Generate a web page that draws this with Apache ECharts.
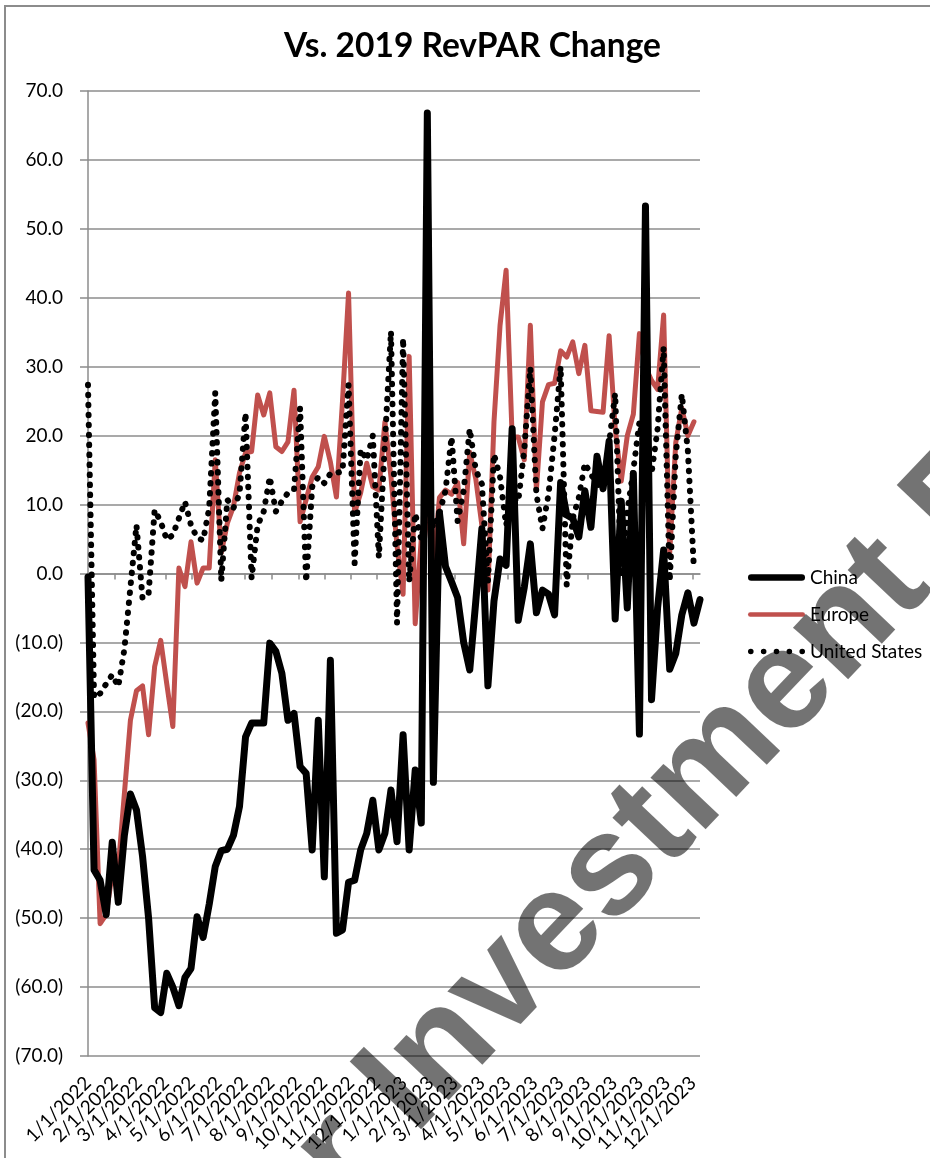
<!DOCTYPE html>
<html>
<head>
<meta charset="utf-8">
<script src="https://cdn.jsdelivr.net/npm/echarts@6/dist/echarts.min.js"></script>
<style>
html,body{margin:0;padding:0;background:#fff;}
#chart{width:930px;height:1158px;}
</style>
</head>
<body>
<div id="chart"></div>
<script>
// ---- data (weekly, first week = 1/1/2022) ----
const chartTitle = 'Vs. 2019 RevPAR Change';
const seriesNames = ['China', 'Europe', 'United States'];
const firstWeek = '1/1/2022';
const monthLabels = ['1/1/2022','2/1/2022','3/1/2022','4/1/2022','5/1/2022','6/1/2022','7/1/2022','8/1/2022','9/1/2022','10/1/2022','11/1/2022','12/1/2022',
                     '1/1/2023','2/1/2023','3/1/2023','4/1/2023','5/1/2023','6/1/2023','7/1/2023','8/1/2023','9/1/2023','10/1/2023','11/1/2023','12/1/2023'];
const china = [
  -0.5,-43.0,-44.5,-49.5,-39.0,-47.7,-38.0,-32.0,-34.3,-41.0,
  -50.0,-63.0,-63.7,-58.0,-60.0,-62.7,-58.6,-57.3,-49.8,-52.8,
  -48.0,-42.5,-40.2,-40.0,-38.0,-33.8,-23.7,-21.7,-21.7,-21.7,
  -10.1,-11.3,-14.5,-21.3,-20.3,-28.0,-29.0,-40.1,-21.3,-44.0,
  -12.6,-52.2,-51.7,-44.8,-44.5,-40.1,-37.7,-32.9,-40.1,-37.7,
  -31.4,-38.9,-23.4,-40.1,-28.5,-36.2,66.8,-30.3,8.8,1.0,
  -1.2,-3.5,-10.0,-14.0,-4.0,6.5,-16.3,-4.0,2.1,1.2,
  21.0,-6.8,-2.0,4.3,-5.7,-2.4,-3.0,-6.0,13.2,8.5,
  8.0,5.3,12.0,6.7,17.0,12.3,19.2,-6.6,10.5,-5.0,
  14.5,-23.3,53.3,-18.3,-5.0,3.4,-13.9,-11.6,-6.0,-2.8,
  -7.2,-3.8
];
const europe = [
  -21.7,-27.0,-50.8,-49.5,-43.5,-42.6,-32.0,-21.3,-17.0,-16.3,
  -23.4,-13.5,-9.7,-16.0,-22.2,0.8,-1.9,4.6,-1.4,0.8,
  0.8,16.5,3.0,7.3,9.7,14.6,17.5,17.7,25.9,23.0,
  26.2,18.4,17.7,19.1,26.6,7.5,10.7,14.0,15.5,19.9,
  16.2,11.1,25.0,40.7,8.8,11.7,16.0,12.6,12.1,22.0,
  14.0,4.0,-3.0,31.5,-7.3,5.0,9.5,1.0,11.0,12.1,
  11.5,13.2,4.3,17.6,13.7,7.0,-2.4,22.0,36.0,44.0,
  19.8,19.8,16.5,36.0,12.1,24.9,27.4,27.6,32.3,31.4,
  33.6,29.0,33.1,23.6,23.5,23.4,34.5,21.1,13.4,20.0,
  23.1,34.8,30.0,28.0,26.7,37.5,3.0,19.0,24.0,20.0,
  22.0
];
const unitedStates = [
  27.4,-18.0,-17.4,-16.0,-14.7,-16.4,-11.0,-2.0,7.0,-3.6,
  -2.9,9.2,7.5,4.9,5.6,8.0,10.4,7.0,5.2,4.8,
  9.5,26.2,-1.0,10.7,9.5,11.5,23.3,-0.7,7.0,9.0,
  14.0,9.0,10.5,11.7,12.1,24.0,-1.2,12.6,14.0,13.1,
  14.5,14.6,14.8,27.4,1.5,18.0,16.5,20.0,2.4,19.0,
  35.1,-7.2,34.1,-1.2,8.7,4.9,10.0,6.6,8.8,12.0,
  19.8,7.6,12.0,21.0,15.0,13.0,-1.2,17.3,14.0,7.0,
  11.0,10.4,18.0,29.8,11.5,6.5,11.5,20.0,30.0,-1.7,
  8.0,11.0,16.0,14.4,13.0,12.3,19.0,26.1,-0.5,9.0,
  15.0,22.0,17.0,14.5,21.0,32.8,-1.1,17.2,26.0,17.8,
  0.6
];
const watermarkText = 'r Investment R';

// ---- helpers ----
function dayOffset(label) {
  const p = label.split('/').map(Number);
  const s = firstWeek.split('/').map(Number);
  return Math.round((Date.UTC(p[2], p[0] - 1, p[1]) - Date.UTC(s[2], s[0] - 1, s[1])) / 86400000);
}
const tickDays = monthLabels.map(dayOffset);
const labelByDay = {};
tickDays.forEach((d, i) => { labelByDay[d] = monthLabels[i]; });
const evenTickDays = tickDays.filter((d, i) => i % 2 === 0);
const oddTickDays = tickDays.filter((d, i) => i % 2 === 1);
const toPoints = arr => arr.map((v, i) => [i * 7, v]);
const lastDay = (china.length - 1) * 7;

// legend icon shapes (styling only)
function barIcon(w, h) {
  const r = h / 2;
  return 'path://M' + r + ',0 L' + (w - r) + ',0 A' + r + ',' + r + ' 0 1 1 ' + (w - r) + ',' + h +
         ' L' + r + ',' + h + ' A' + r + ',' + r + ' 0 1 1 ' + r + ',0 Z';
}
function dotsIcon(w, r, n) {
  const step = (w - 2 * r) / (n - 1);
  let d = 'path://';
  for (let k = 0; k < n; k++) {
    const cx = r + k * step;
    d += 'M' + (cx - r) + ',' + r + ' A' + r + ',' + r + ' 0 1 0 ' + (cx + r) + ',' + r +
         ' A' + r + ',' + r + ' 0 1 0 ' + (cx - r) + ',' + r + ' Z ';
  }
  return d;
}

const FONT = 'Lato';
const GRID_COLOR = '#8c8c8c';
const RED = '#C0504D';

function labelAxis(values) {
  return {
    type: 'value', min: 0, max: lastDay, position: 'bottom',
    axisLine: { show: false, onZero: false },
    axisTick: { show: false },
    splitLine: { show: false },
    axisLabel: {
      customValues: values,
      formatter: v => labelByDay[Math.round(v)] || '',
      rotate: 45, margin: 24, fontFamily: FONT, fontSize: 19, color: '#000',
      hideOverlap: false, showMinLabel: true, showMaxLabel: true
    }
  };
}

const chart = echarts.init(document.getElementById('chart'), null, { renderer: 'canvas' });
chart.setOption({
  animation: false,
  backgroundColor: '#ffffff',
  title: {
    text: chartTitle,
    left: 284,
    top: 29,
    padding: 0,
    textStyle: { fontFamily: FONT, fontWeight: 'bold', fontSize: 33.5, color: '#000' }
  },
  legend: {
    orient: 'vertical',
    left: 748,
    top: 568,
    padding: 0,
    itemWidth: 57,
    itemHeight: 14,
    itemGap: 18,
    symbolKeepAspect: true,
    itemStyle: { borderWidth: 0 },
    data: [
      { name: seriesNames[0], icon: barIcon(57, 6.5) },
      { name: seriesNames[1], icon: barIcon(57, 4.5) },
      { name: seriesNames[2], icon: dotsIcon(57, 2.8, 5) }
    ],
    textStyle: { fontFamily: FONT, fontSize: 19, color: '#000' }
  },
  grid: { left: 88, right: 230, top: 91, bottom: 102 },
  xAxis: [
    labelAxis(evenTickDays),
    {
      type: 'value', min: 0, max: lastDay, position: 'bottom',
      axisLine: { show: true, onZero: true, lineStyle: { color: GRID_COLOR, width: 1.5 } },
      axisTick: { show: true, customValues: tickDays, length: 6, lineStyle: { color: GRID_COLOR, width: 1.5 } },
      axisLabel: { show: false },
      splitLine: { show: false }
    },
    labelAxis(oddTickDays)
  ],
  yAxis: {
    type: 'value', min: -70, max: 70, interval: 10,
    axisLine: { show: true, lineStyle: { color: GRID_COLOR, width: 1.5 } },
    axisTick: { show: true, length: 8, lineStyle: { color: GRID_COLOR, width: 1.5 } },
    splitLine: { show: true, lineStyle: { color: GRID_COLOR, width: 1.5 } },
    axisLabel: {
      margin: 25, fontFamily: FONT, fontSize: 19, color: '#000',
      formatter: v => v < 0 ? '(' + (-v).toFixed(1) + ')' : v.toFixed(1)
    }
  },
  series: [
    {
      name: seriesNames[0], type: 'line', xAxisIndex: 0, data: toPoints(china),
      symbol: 'none', showSymbol: false, z: 5,
      itemStyle: { color: '#000000' },
      lineStyle: { color: '#000000', width: 7, join: 'round', cap: 'round' }
    },
    {
      name: seriesNames[1], type: 'line', xAxisIndex: 0, data: toPoints(europe),
      symbol: 'none', showSymbol: false, z: 3,
      itemStyle: { color: RED },
      lineStyle: { color: RED, width: 5, join: 'round', cap: 'round' }
    },
    {
      name: seriesNames[2], type: 'line', xAxisIndex: 0, data: toPoints(unitedStates),
      symbol: 'none', showSymbol: false, z: 4,
      itemStyle: { color: '#000000' },
      lineStyle: { color: '#000000', width: 6, type: [0.5, 9.5], cap: 'round', join: 'round' }
    }
  ],
  graphic: [
    {
      type: 'rect', silent: true, z: -1,
      shape: { x: 5, y: 6, width: 1000, height: 1200 },
      style: { fill: 'none', stroke: GRID_COLOR, lineWidth: 2 }
    },
    {
      type: 'text', silent: true, z: 100,
      x: 662, y: 818, rotation: 46.5 * Math.PI / 180,
      style: {
        text: watermarkText, x: 0, y: 0,
        textAlign: 'center', verticalAlign: 'middle',
        font: 'bold 143px "Liberation Sans", Arial, sans-serif',
        fill: 'rgba(0,0,0,0.55)'
      }
    }
  ]
});
</script>
</body>
</html>
